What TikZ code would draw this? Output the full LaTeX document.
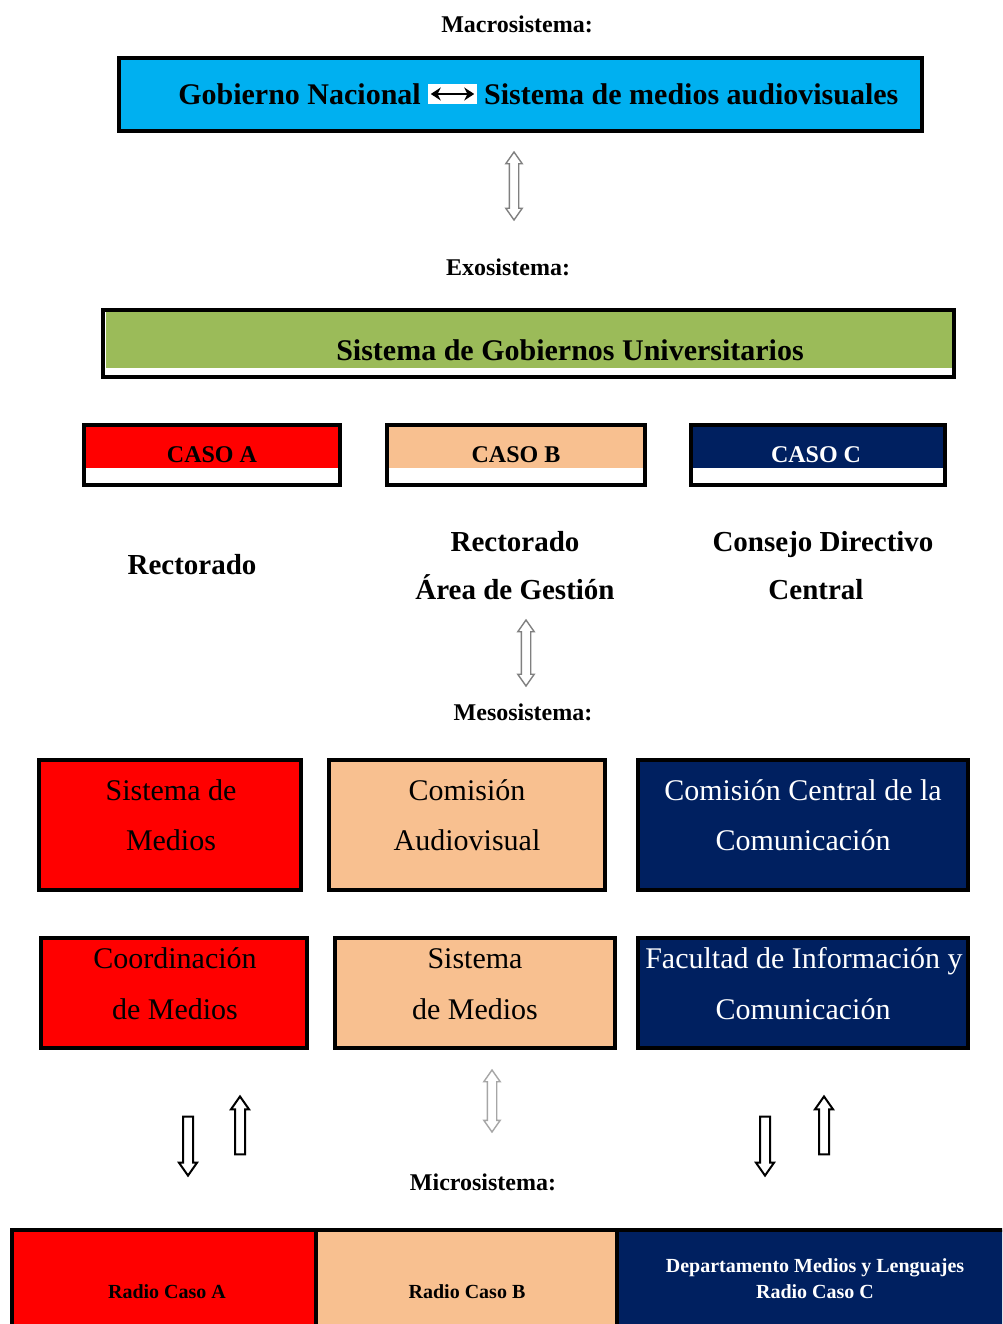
\documentclass[tikz,border=0pt]{standalone}
\usepackage{fontspec}
\setmainfont{Liberation Serif}
\usetikzlibrary{shapes.arrows,arrows.meta}
\definecolor{cyanbox}{HTML}{00B0F0}
\definecolor{greenbox}{HTML}{9BBB59}
\definecolor{redbox}{HTML}{FF0000}
\definecolor{peach}{HTML}{F8C090}
\definecolor{navy}{HTML}{002060}
\definecolor{arrgray}{HTML}{808080}
\begin{document}
\begin{tikzpicture}[x=1pt,y=-1pt,
  box/.style={draw=black, line width=3.5pt, inner sep=0pt},
  head/.style={font=\bfseries\fontsize{24}{28}\selectfont, anchor=base, inner sep=0pt},
  big/.style={font=\bfseries\fontsize{30}{36}\selectfont, anchor=base, inner sep=0pt},
  casotxt/.style={font=\bfseries\fontsize{24}{28}\selectfont, anchor=base, inner sep=0pt},
  rect/.style={font=\bfseries\fontsize{29}{34}\selectfont, anchor=base, inner sep=0pt},
  boxtxt/.style={font=\fontsize{30}{36}\selectfont, anchor=base, inner sep=0pt},
  smalltxt/.style={font=\bfseries\fontsize{20}{24}\selectfont, anchor=base, inner sep=0pt},
  dbl/.style={double arrow, draw=#1, fill=white, line width=1.4pt, rotate=90,
    inner xsep=0pt, inner ysep=4pt, double arrow head extend=3.5pt,
    double arrow tip angle=70},
  sgl/.style={single arrow, draw=#1, fill=white, line width=2pt,
    inner xsep=0pt, inner ysep=4pt, single arrow head extend=4pt,
    single arrow tip angle=70}
]
\useasboundingbox (0,0) rectangle (1002,1324);
\clip (0,0) rectangle (1002,1324);

% ---------- Macrosistema ----------
\node[head] (macro) at (517,33) {Macrosistema:};
\node[box, fill=cyanbox, minimum width=803pt, minimum height=73pt] (gob) at (520.5,94.5) {};
\node[big, anchor=base east] (gobL) at (421,105) {Gobierno Nacional};
\node[fill=white, minimum width=49pt, minimum height=20pt, inner sep=0pt] (arrbox) at (452.5,94) {};
\draw[{Stealth[length=10pt,width=13pt]}-{Stealth[length=10pt,width=13pt]}, line width=2.4pt]
  ([xshift=3pt]arrbox.west) -- ([xshift=-3pt]arrbox.east);
\node[big, anchor=base west] (gobR) at (484,105) {Sistema de medios audiovisuales};

\node[dbl=arrgray, minimum height=68pt, minimum width=15pt] (ar1) at (514,186) {};

% ---------- Exosistema ----------
\node[head] (exo) at (508,276) {Exosistema:};
\node[box, fill=white, minimum width=851pt, minimum height=67pt] (gu) at (528.5,343.5) {};
\fill[greenbox] (105.5,312) rectangle (951.5,368);
\node[big] (gutxt) at (570,360) {Sistema de Gobiernos Universitarios};

% CASO boxes
\node[box, fill=white, minimum width=256pt, minimum height=60pt] (casoA) at (212,455) {};
\fill[redbox] (86,427) rectangle (338,468);
\node[casotxt] (casoAt) at (212,462) {CASO A};
\node[box, fill=white, minimum width=258pt, minimum height=60pt] (casoB) at (516,455) {};
\fill[peach] (389,427) rectangle (643,468);
\node[casotxt] (casoBt) at (516,462) {CASO B};
\node[box, fill=white, minimum width=254pt, minimum height=60pt] (casoC) at (818,455) {};
\fill[navy] (693,427) rectangle (943,468);
\node[casotxt, text=white] (casoCt) at (816,462) {CASO C};

\node[rect] (recA) at (192,574) {Rectorado};
\node[rect] (recB) at (515,551) {Rectorado};
\node[rect] (areaB) at (515,599) {Área de Gestión};
\node[rect] (consC) at (823,551) {Consejo Directivo};
\node[rect] (centC) at (816,599) {Central};

\node[dbl=arrgray, minimum height=66pt, minimum width=15pt] (ar2) at (526,653) {};

% ---------- Mesosistema ----------
\node[head] (meso) at (523,720) {Mesosistema:};

\node[box, fill=redbox, minimum width=262pt, minimum height=130pt] (r1a) at (170,825) {};
\node[boxtxt] (r1at1) at (171,800) {Sistema de};
\node[boxtxt] (r1at2) at (171,850) {Medios};
\node[box, fill=peach, minimum width=276pt, minimum height=130pt] (r1b) at (467,825) {};
\node[boxtxt] (r1bt1) at (467,800) {Comisión};
\node[boxtxt] (r1bt2) at (467,850) {Audiovisual};
\node[box, fill=navy, minimum width=330pt, minimum height=130pt] (r1c) at (803,825) {};
\node[boxtxt, text=white] (r1ct1) at (803,800) {Comisión Central de la};
\node[boxtxt, text=white] (r1ct2) at (803,850) {Comunicación};

\node[box, fill=redbox, minimum width=266pt, minimum height=110pt] (r2a) at (174,993) {};
\node[boxtxt] (r2at1) at (175,968) {Coordinación};
\node[boxtxt] (r2at2) at (175,1019) {de Medios};
\node[box, fill=peach, minimum width=280pt, minimum height=110pt] (r2b) at (475,993) {};
\node[boxtxt] (r2bt1) at (475,968) {Sistema};
\node[boxtxt] (r2bt2) at (475,1019) {de Medios};
\node[box, fill=navy, minimum width=330pt, minimum height=110pt] (r2c) at (803,993) {};
\node[boxtxt, text=white] (r2ct1) at (804,968) {Facultad de Información y};
\node[boxtxt, text=white] (r2ct2) at (803,1019) {Comunicación};

% arrows
\node[sgl=black, rotate=-90, minimum height=59pt, minimum width=16pt] (dA) at (188,1142.5) {};
\node[sgl=black, rotate=90, minimum height=58pt, minimum width=16pt] (uA) at (240,1129) {};
\node[dbl=arrgray!70, minimum height=62pt, minimum width=15pt] (ar3) at (492,1101) {};
\node[sgl=black, rotate=-90, minimum height=59pt, minimum width=16pt] (dC) at (765,1142.5) {};
\node[sgl=black, rotate=90, minimum height=58pt, minimum width=16pt] (uC) at (824,1129) {};

% ---------- Microsistema ----------
\node[head] (micro) at (483,1190) {Microsistema:};

\node[box, fill=redbox, minimum width=304pt, minimum height=110pt] (ra) at (164,1285) {};
\node[box, fill=peach, minimum width=301pt, minimum height=110pt] (rb) at (466.5,1285) {};
\node[box, fill=navy, minimum width=393pt, minimum height=110pt] (rc) at (813.5,1285) {};
\node[smalltxt] (rat) at (167,1298) {Radio Caso A};
\node[smalltxt] (rbt) at (467,1298) {Radio Caso B};
\node[smalltxt, text=white] (rct1) at (815,1272) {Departamento Medios y Lenguajes};
\node[smalltxt, text=white] (rct2) at (815,1298) {Radio Caso C};
\end{tikzpicture}
\end{document}
